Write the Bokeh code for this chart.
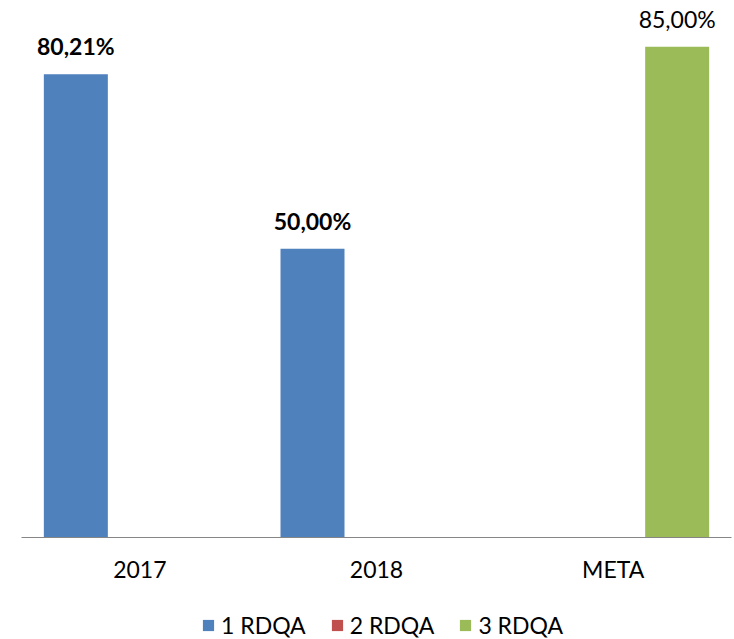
from bokeh.plotting import figure
from bokeh.layouts import column
from bokeh.models import ColumnDataSource, Range1d, Legend, LegendItem, LabelSet, FixedTicker
from bokeh.core.properties import value
from bokeh.transform import dodge
from bokeh.embed import file_html
from bokeh.resources import INLINE

categories = ["2017", "2018", "META"]
series_names = ["1 RDQA", "2 RDQA", "3 RDQA"]
rdqa1 = [80.21, 50.00, float("nan")]
rdqa2 = [float("nan"), float("nan"), float("nan")]
rdqa3 = [float("nan"), float("nan"), 85.00]
colors = ["#4F81BD", "#C0504D", "#9BBB59"]
label_weights = ["bold", "bold", "normal"]

FONT = "Lato"
FS = "23px"
BAR_W = 0.2704

xc = [i + 0.5 for i in range(len(categories))]

p = figure(width=734, height=590, output_backend="svg", toolbar_location=None,
           x_range=Range1d(0, 3), y_range=Range1d(0, 93.0),
           min_border_left=21, min_border_right=3, min_border_top=0,
           min_border_bottom=53)
p.outline_line_color = None
p.grid.visible = False
p.yaxis.visible = False
p.background_fill_color = "white"
p.border_fill_color = "white"

xa = p.xaxis[0]
xa.ticker = FixedTicker(ticks=xc)
xa.major_label_overrides = {x: c for x, c in zip(xc, categories)}
xa.major_tick_line_color = None
xa.minor_tick_line_color = None
xa.axis_line_color = "#868686"
xa.axis_line_width = 1
xa.major_label_text_font = FONT
xa.major_label_text_font_size = FS
xa.major_label_text_color = "black"
xa.major_label_standoff = 11

# legend-only strip; its swatch renderers have zero height so nothing is drawn
q = figure(width=734, height=49, output_backend="svg", toolbar_location=None,
           x_range=Range1d(0, 1), y_range=Range1d(0, 1),
           min_border_left=0, min_border_right=0, min_border_top=0, min_border_bottom=0)
q.outline_line_color = None
q.grid.visible = False
q.xaxis.visible = False
q.yaxis.visible = False
q.background_fill_color = "white"
q.border_fill_color = "white"

items = []
for j, (name, vals, col, wt) in enumerate(zip(series_names, [rdqa1, rdqa2, rdqa3], colors, label_weights)):
    texts = ["" if v != v else f"{v:.2f}".replace(".", ",") + "%" for v in vals]
    src = ColumnDataSource(dict(x=xc, top=vals, text=texts))
    off = (j - 1) * BAR_W
    p.vbar(x=dodge("x", off), top="top", width=BAR_W, bottom=0, source=src,
           fill_color=col, line_color=None)
    lab = LabelSet(x=dodge("x", off), y="top", text="text", source=src,
                   text_align="center", text_baseline="alphabetic", y_offset=19,
                   text_font=value(FONT), text_font_size=value(FS),
                   text_font_style=value(wt), text_color="black")
    p.add_layout(lab)
    lr = q.vbar(x=[0.5], top=[0], bottom=0, width=0.0, fill_color=col, line_color=None)
    items.append(LegendItem(label=name, renderers=[lr]))

legend = Legend(items=items, orientation="horizontal", location=(180, 0),
                glyph_width=14, glyph_height=14, label_standoff=6, spacing=24,
                label_text_font=FONT, label_text_font_size=FS,
                label_text_color="black",
                border_line_color=None, background_fill_alpha=0,
                margin=0, padding=0)
q.add_layout(legend, "center")

layout = column(p, q, spacing=0)
open("out.html", "w").write(file_html(layout, INLINE))
